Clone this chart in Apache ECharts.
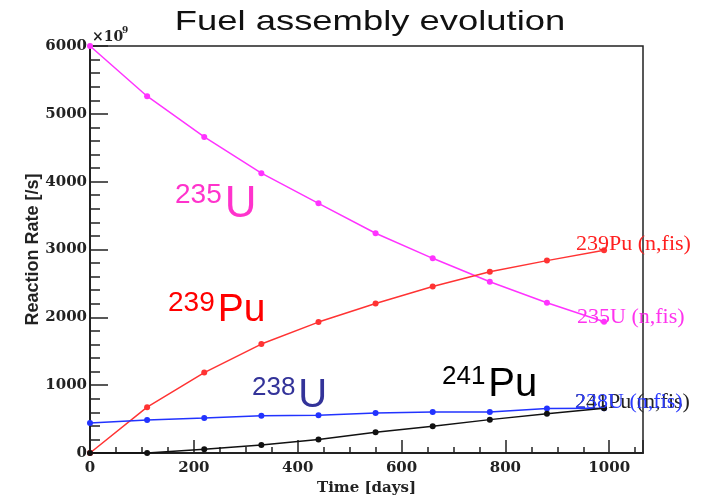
<!DOCTYPE html>
<html>
<head>
<meta charset="utf-8">
<script src="https://cdn.jsdelivr.net/npm/echarts@6/dist/echarts.min.js"></script>
<style>
  html, body { margin: 0; padding: 0; background: #fff; }
  #chart { width: 701px; height: 501px; }
</style>
</head>
<body>
<div id="chart"></div>
<script>
// time in days
var days = [0, 110, 220, 330, 440, 550, 660, 770, 880, 990]
// reaction rates, x10^9 /s
var u235 = [6000, 5260, 4660, 4125, 3680, 3240, 2870, 2525, 2215, 1935]
var pu239 = [0, 676, 1185, 1606, 1930, 2205, 2455, 2672, 2836, 2990]
var u238 = [443, 485, 516, 548, 556, 588, 603, 603, 657, 660]
var pu241 = [0, 0, 54, 117, 200, 307, 394, 492, 580, 660]

var serif = '"DejaVu Serif", "Liberation Serif", serif'
var sans = '"Liberation Sans", Arial, sans-serif'

function pairs(ys) {
  return days.map(function (d, i) { return [d, ys[i]] })
}

function lineSeries(name, ys, color) {
  return {
    name: name,
    type: 'line',
    data: pairs(ys),
    symbol: 'circle',
    symbolSize: 6,
    lineStyle: { color: color, width: 1.5 },
    itemStyle: { color: color },
    z: 3
  }
}

// isotope label: small superscript mass number + big symbol
function isoLabel(num, sym, x, y, numSize, symSize, color) {
  var numW = num.length * 0.556 * numSize
  return [
    { type: 'text', x: x, y: y - numSize * 0.06 - 2, z: 10,
      style: { text: num, fill: color, font: numSize + 'px ' + sans, verticalAlign: 'top' } },
    { type: 'text', x: x + numW + 3, y: y - symSize * 0.06, z: 10,
      style: { text: sym, fill: color, font: symSize + 'px ' + sans, verticalAlign: 'top' } }
  ]
}

var chart = echarts.init(document.getElementById('chart'))

var graphics = [
  { type: 'text', x: 370, y: 22, scaleX: 1.3, z: 10,
    style: { text: 'Fuel assembly evolution', fill: '#111', font: '28px ' + sans,
      textAlign: 'center', verticalAlign: 'middle' } },
  { type: 'text', x: 92, y: 30, z: 10,
    style: { text: '\u00d710', fill: '#222', font: 'bold 14px ' + serif, verticalAlign: 'top' } },
  { type: 'text', x: 122, y: 26, z: 10,
    style: { text: '9', fill: '#222', font: 'bold 9px ' + serif, verticalAlign: 'top' } },
  // curve names at right
  { type: 'text', x: 576, y: 233, z: 10,
    style: { text: '239Pu (n,fis)', fill: '#ff2020', font: '22px "Liberation Serif", serif', verticalAlign: 'top' } },
  { type: 'text', x: 577, y: 306, z: 10,
    style: { text: '235U (n,fis)', fill: '#ff33ee', font: '22px "Liberation Serif", serif', verticalAlign: 'top' } },
  { type: 'text', x: 575, y: 391, z: 10,
    style: { text: '241Pu (n,fis)', fill: '#222', font: '22px "Liberation Serif", serif', verticalAlign: 'top' } },
  { type: 'text', x: 575, y: 391, z: 11,
    style: { text: '238U (n,fis)', fill: '#2a3aff', font: '22px "Liberation Serif", serif', verticalAlign: 'top' } }
]
graphics = graphics
  .concat(isoLabel('235', 'U', 175, 185, 28, 44, '#ff33cc'))
  .concat(isoLabel('239', 'Pu', 168, 293, 28, 39, '#ff0000'))
  .concat(isoLabel('238', 'U', 252, 378, 26, 40, '#333399'))
  .concat(isoLabel('241', 'Pu', 442, 367, 26, 40, '#000000'))

chart.setOption({
  animation: false,
  backgroundColor: '#fff',
  grid: {
    left: 90, right: 58, top: 46, bottom: 44,
    show: true, borderColor: '#222', borderWidth: 1.5
  },
  xAxis: {
    type: 'value',
    min: 0,
    max: 1065,
    interval: 200,
    name: 'Time [days]',
    nameLocation: 'middle',
    nameGap: 28,
    nameTextStyle: { fontFamily: serif, fontWeight: 'bold', fontSize: 15, color: '#222' },
    axisLine: { lineStyle: { color: '#222', width: 2 } },
    axisTick: { inside: true, length: 13, lineStyle: { color: '#222', width: 1.5 } },
    minorTick: { show: true, splitNumber: 4, length: 6, lineStyle: { color: '#222', width: 1.5 } },
    axisLabel: {
      margin: 8,
      fontFamily: serif, fontWeight: 'bold', fontSize: 15, color: '#222',
      formatter: function (v) { return v % 200 === 0 && v <= 1000 ? String(v) : '' }
    },
    splitLine: { show: false }
  },
  yAxis: {
    type: 'value',
    min: 0,
    max: 6000,
    interval: 1000,
    name: 'Reaction Rate [/s]',
    nameLocation: 'middle',
    nameGap: 48,
    nameMoveOverlap: false,
    nameTextStyle: { fontFamily: sans, fontWeight: 'bold', fontSize: 18, color: '#222' },
    axisLine: { show: true, lineStyle: { color: '#222', width: 2 } },
    axisTick: { show: true, inside: true, length: 18, lineStyle: { color: '#222', width: 1.5 } },
    minorTick: { show: true, splitNumber: 5, length: 10, lineStyle: { color: '#222', width: 1.5 } },
    axisLabel: {
      margin: 3, fontFamily: serif, fontWeight: 'bold', fontSize: 15, color: '#222',
      formatter: function (v) { return String(v) }
    },
    splitLine: { show: false }
  },
  series: [
    lineSeries('235U (n,fis)', u235, '#ff33ff'),
    lineSeries('239Pu (n,fis)', pu239, '#ff3333'),
    lineSeries('238U (n,fis)', u238, '#2233ff'),
    lineSeries('241Pu (n,fis)', pu241, '#111111')
  ],
  graphic: graphics
})
</script>
</body>
</html>
